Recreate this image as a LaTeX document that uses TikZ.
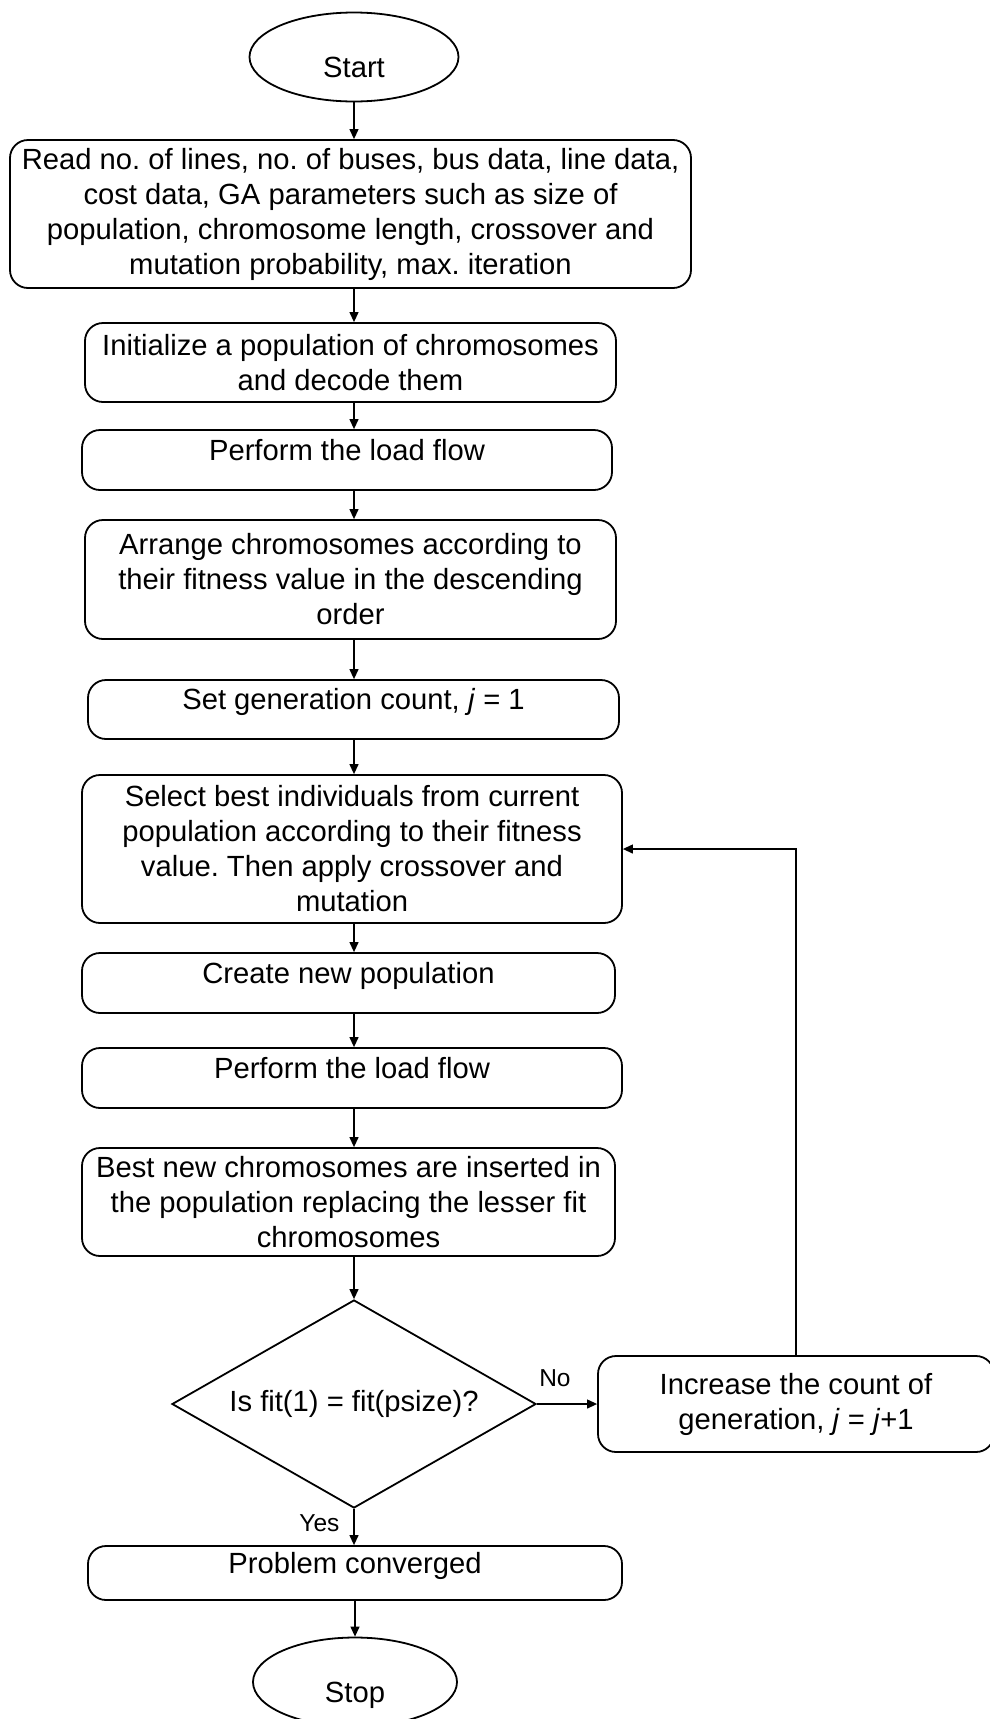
\documentclass[tikz,border=0pt]{standalone}
\usepackage{fontspec}
\setmainfont{Liberation Sans}
\usetikzlibrary{shapes.geometric,arrows.meta}
\frenchspacing
\begin{document}
\begin{tikzpicture}[x=1pt,y=-1pt,
  boxfont/.style={font=\fontsize{29.2}{35}\selectfont},
  box/.style={draw, rounded corners=18pt, line width=1.8pt, align=center, inner sep=0pt, boxfont},
  onebox/.style={box, text height=#1, text depth=#1},
  term/.style={draw, ellipse, line width=1.8pt, inner sep=0pt, boxfont, text height=40pt, text depth=0pt},
  decision/.style={draw, diamond, aspect=1.75, line width=1.8pt, inner sep=0pt, boxfont},
  arr/.style={line width=1.2pt, -{Triangle[length=10pt, width=9pt]}},
  lbl/.style={font=\fontsize{24.5}{29}\selectfont, inner sep=0pt}]
\useasboundingbox (0,0) rectangle (990,1719);
\fill[white] (0,0) rectangle (990,1719);
\clip (0,0) rectangle (990,1719);
\coordinate (sp) at (354,0);

\node[term, minimum width=209pt, minimum height=89pt] (start) at (354,57) {Start};
\node[box, minimum width=681pt, minimum height=148pt] (read) at (350.5,214)
  {Read no. of lines, no. of buses, bus data, line data,\\ cost data, GA parameters such as size of\\ population, chromosome length, crossover and\\ mutation probability, max. iteration};
\node[box, minimum width=531pt, minimum height=79pt] (init) at (350.5,362.5)
  {Initialize a population of chromosomes\\ and decode them};
\node[onebox=30pt, minimum width=530pt] (perf1) at (347,460) {Perform the load flow};
\node[box, minimum width=531pt, minimum height=119pt] (arrange) at (350.5,579.5)
  {Arrange chromosomes according to\\ their fitness value in the descending\\ order};
\node[onebox=29.5pt, minimum width=531pt] (setgen) at (353.5,709.5) {Set generation count, \textit{j} = 1};
\node[box, minimum width=540pt, minimum height=148pt] (select) at (352,849)
  {Select best individuals from current\\ population according to their fitness\\ value. Then apply crossover and\\ mutation};
\node[onebox=30pt, minimum width=533pt] (create) at (348.5,983) {Create new population};
\node[onebox=30pt, minimum width=540pt] (perf2) at (352,1078) {Perform the load flow};
\node[box, minimum width=533pt, minimum height=108pt] (best) at (348.5,1202)
  {Best new chromosomes are inserted in\\ the population replacing the lesser fit\\ chromosomes};
\node[decision, minimum width=364pt, minimum height=208pt] (dia) at (354,1404) {Is fit(1) = fit(psize)?};
\node[box, minimum width=396pt, minimum height=96pt] (inc) at (796,1404)
  {Increase the count of\\ generation, \textit{j} = \textit{j}+1};
\node[onebox=27pt, minimum width=534pt] (prob) at (355,1573) {Problem converged};
\node[term, minimum width=204pt, minimum height=89pt] (stop) at (355,1682) {Stop};

\draw[arr] (start.south) -- (read.north -| sp);
\draw[arr] (read.south -| sp) -- (init.north -| sp);
\draw[arr] (init.south -| sp) -- (perf1.north -| sp);
\draw[arr] (perf1.south -| sp) -- (arrange.north -| sp);
\draw[arr] (arrange.south -| sp) -- (setgen.north -| sp);
\draw[arr] (setgen.south -| sp) -- (select.north -| sp);
\draw[arr] (select.south -| sp) -- (create.north -| sp);
\draw[arr] (create.south -| sp) -- (perf2.north -| sp);
\draw[arr] (perf2.south -| sp) -- (best.north -| sp);
\draw[arr] (best.south -| sp) -- (dia.north);
\draw[arr] (dia.south) -- (prob.north -| dia.south)
  node[lbl, pos=0.4, left=14pt] {Yes};
\draw[arr] (dia.east) -- (inc.west)
  node[lbl, pos=0.3, above=17pt] {No};
\draw[arr] (inc.north) |- (select.east);
\draw[arr] (prob.south -| stop.north) -- (stop.north);
\end{tikzpicture}
\end{document}
